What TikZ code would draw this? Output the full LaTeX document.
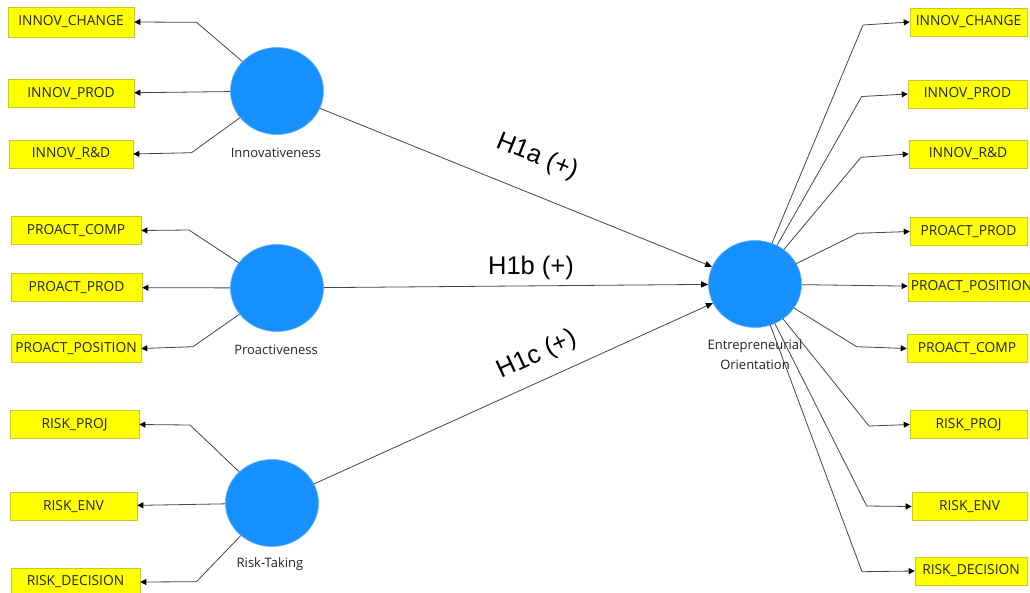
\documentclass[tikz,border=0pt]{standalone}
\usepackage{fontspec}
\setmainfont{Open Sans}
\newfontfamily\arialfont{Liberation Sans}
\usetikzlibrary{arrows.meta,shapes.geometric}
\definecolor{latentblue}{RGB}{22,144,255}
\definecolor{indyellow}{RGB}{255,255,0}
\definecolor{indborder}{RGB}{200,200,40}
\definecolor{pathgray}{RGB}{70,70,70}
\definecolor{labelgray}{RGB}{35,35,35}
\tikzset{
  latent/.style={ellipse, fill=latentblue, draw=latentblue!70!white, line width=0.6pt,
    minimum width=93pt, minimum height=87pt, inner sep=0pt},
  indicator/.style={rectangle, fill=indyellow, draw=indborder, line width=0.6pt,
    minimum height=28pt, inner sep=0pt, text=labelgray,
    font=\fontsize{13.8}{15}\selectfont},
  lvname/.style={text=labelgray, font=\fontsize{13}{20}\selectfont, align=center},
  hyp/.style={font=\arialfont\fontsize{25.5}{28}\selectfont, text=black},
  load/.style={draw=pathgray, line width=0.8pt, -{Triangle[length=6pt,width=6pt,color=black]}},
  struct/.style={draw=pathgray, line width=0.8pt, -{Triangle[length=7pt,width=6pt,color=black]}}
}
\begin{document}
\begin{tikzpicture}[x=1pt,y=-1pt]
\useasboundingbox[fill=white] (0,0) rectangle (1030,592);

% latent variables
\node[latent] (inn) at (277,91) {};
\node[latent] (pro) at (277,288) {};
\node[latent] (rsk) at (272,503) {};
\node[latent] (eo)  at (755,284) {};
\node[lvname] (innl) at (276,153) {Innovativeness};
\node[lvname] (prol) at (276,350) {Proactiveness};
\node[lvname] (rskl) at (270,564) {Risk-Taking};
\node[lvname] (eol)  at (755,355) {Entrepreneurial\\Orientation};

% indicators of the first-order constructs
\node[indicator, minimum width=126pt, minimum height=30pt] (ic) at (71,22) {INNOV\_CHANGE};
\node[indicator, minimum width=126pt] (ip) at (71,93.5) {INNOV\_PROD};
\node[indicator, minimum width=124pt] (ir) at (71,154) {INNOV\_R\&D};
\node[indicator, minimum width=130pt] (pc) at (76,230.5) {PROACT\_COMP};
\node[indicator, minimum width=131pt] (pp) at (76.5,287.5) {PROACT\_PROD};
\node[indicator, minimum width=130pt] (pn) at (76,348.5) {PROACT\_POSITION};
\node[indicator, minimum width=129pt] (rp) at (74.5,424.5) {RISK\_PROJ};
\node[indicator, minimum width=127pt] (re) at (73.5,506.5) {RISK\_ENV};
\node[indicator, minimum width=129pt] (rd) at (75.5,582) {RISK\_DECISION};

% indicators of the second-order construct
\node[indicator, minimum width=117pt] (ic2) at (968.5,22) {INNOV\_CHANGE};
\node[indicator, minimum width=119pt] (ip2) at (967.5,94) {INNOV\_PROD};
\node[indicator, minimum width=118pt] (ir2) at (968,154) {INNOV\_R\&D};
\node[indicator, minimum width=117pt] (pp2) at (968.5,231.5) {PROACT\_PROD};
\node[indicator, minimum width=127pt] (pn2) at (971.5,287) {PROACT\_POSITION};
\node[indicator, minimum width=120pt] (pc2) at (967,348.5) {PROACT\_COMP};
\node[indicator, minimum width=117pt] (rp2) at (968.5,424.5) {RISK\_PROJ};
\node[indicator, minimum width=115pt] (re2) at (969.5,506.5) {RISK\_ENV};
\node[indicator, minimum width=112pt] (rd2) at (971,571) {RISK\_DECISION};

% outer loadings, left
\draw[load] (inn) -- (196.5,22.3) -- (ic.east);
\draw[load] (inn) -- (ip);
\draw[load] (inn) -- (191.5,152.7) -- (ir.east);
\draw[load] (pro) -- (189,230) -- (pc.east);
\draw[load] (pro) -- (pp);
\draw[load] (pro) -- (193,346.7) -- (pn.east);
\draw[load] (rsk) -- (190,425) -- (rp.east);
\draw[load] (rsk) -- (re);
\draw[load] (rsk) -- (196.5,581.7) -- (rd.east);

% outer loadings, right
\draw[load] (eo) -- (863,25) -- (ic2.west);
\draw[load] (eo) -- (861.7,96.5) -- (ip2.west);
\draw[load] (eo) -- (861,157.3) -- (ir2.west);
\draw[load] (eo) -- (857.7,233.3) -- (pp2.west);
\draw[load] (eo) -- (pn2);
\draw[load] (eo) -- (856.7,346.7) -- (pc2.west);
\draw[load] (eo) -- (869,426) -- (rp2.west);
\draw[load] (eo) -- (866.7,506) -- (re2.west);
\draw[load] (eo) -- (862,571.7) -- (rd2.west);

% structural paths
\draw[struct] (inn) -- (eo);
\draw[struct] (pro) -- (eo);
\draw[struct] (rsk) -- (eo);
\node[hyp, rotate=-22] (h1a) at (537,157) {H1a (+)};
\node[hyp] (h1b) at (531,268) {H1b (+)};
\node[hyp, rotate=25] (h1c) at (537,355) {H1c (+)};
\end{tikzpicture}
\end{document}
